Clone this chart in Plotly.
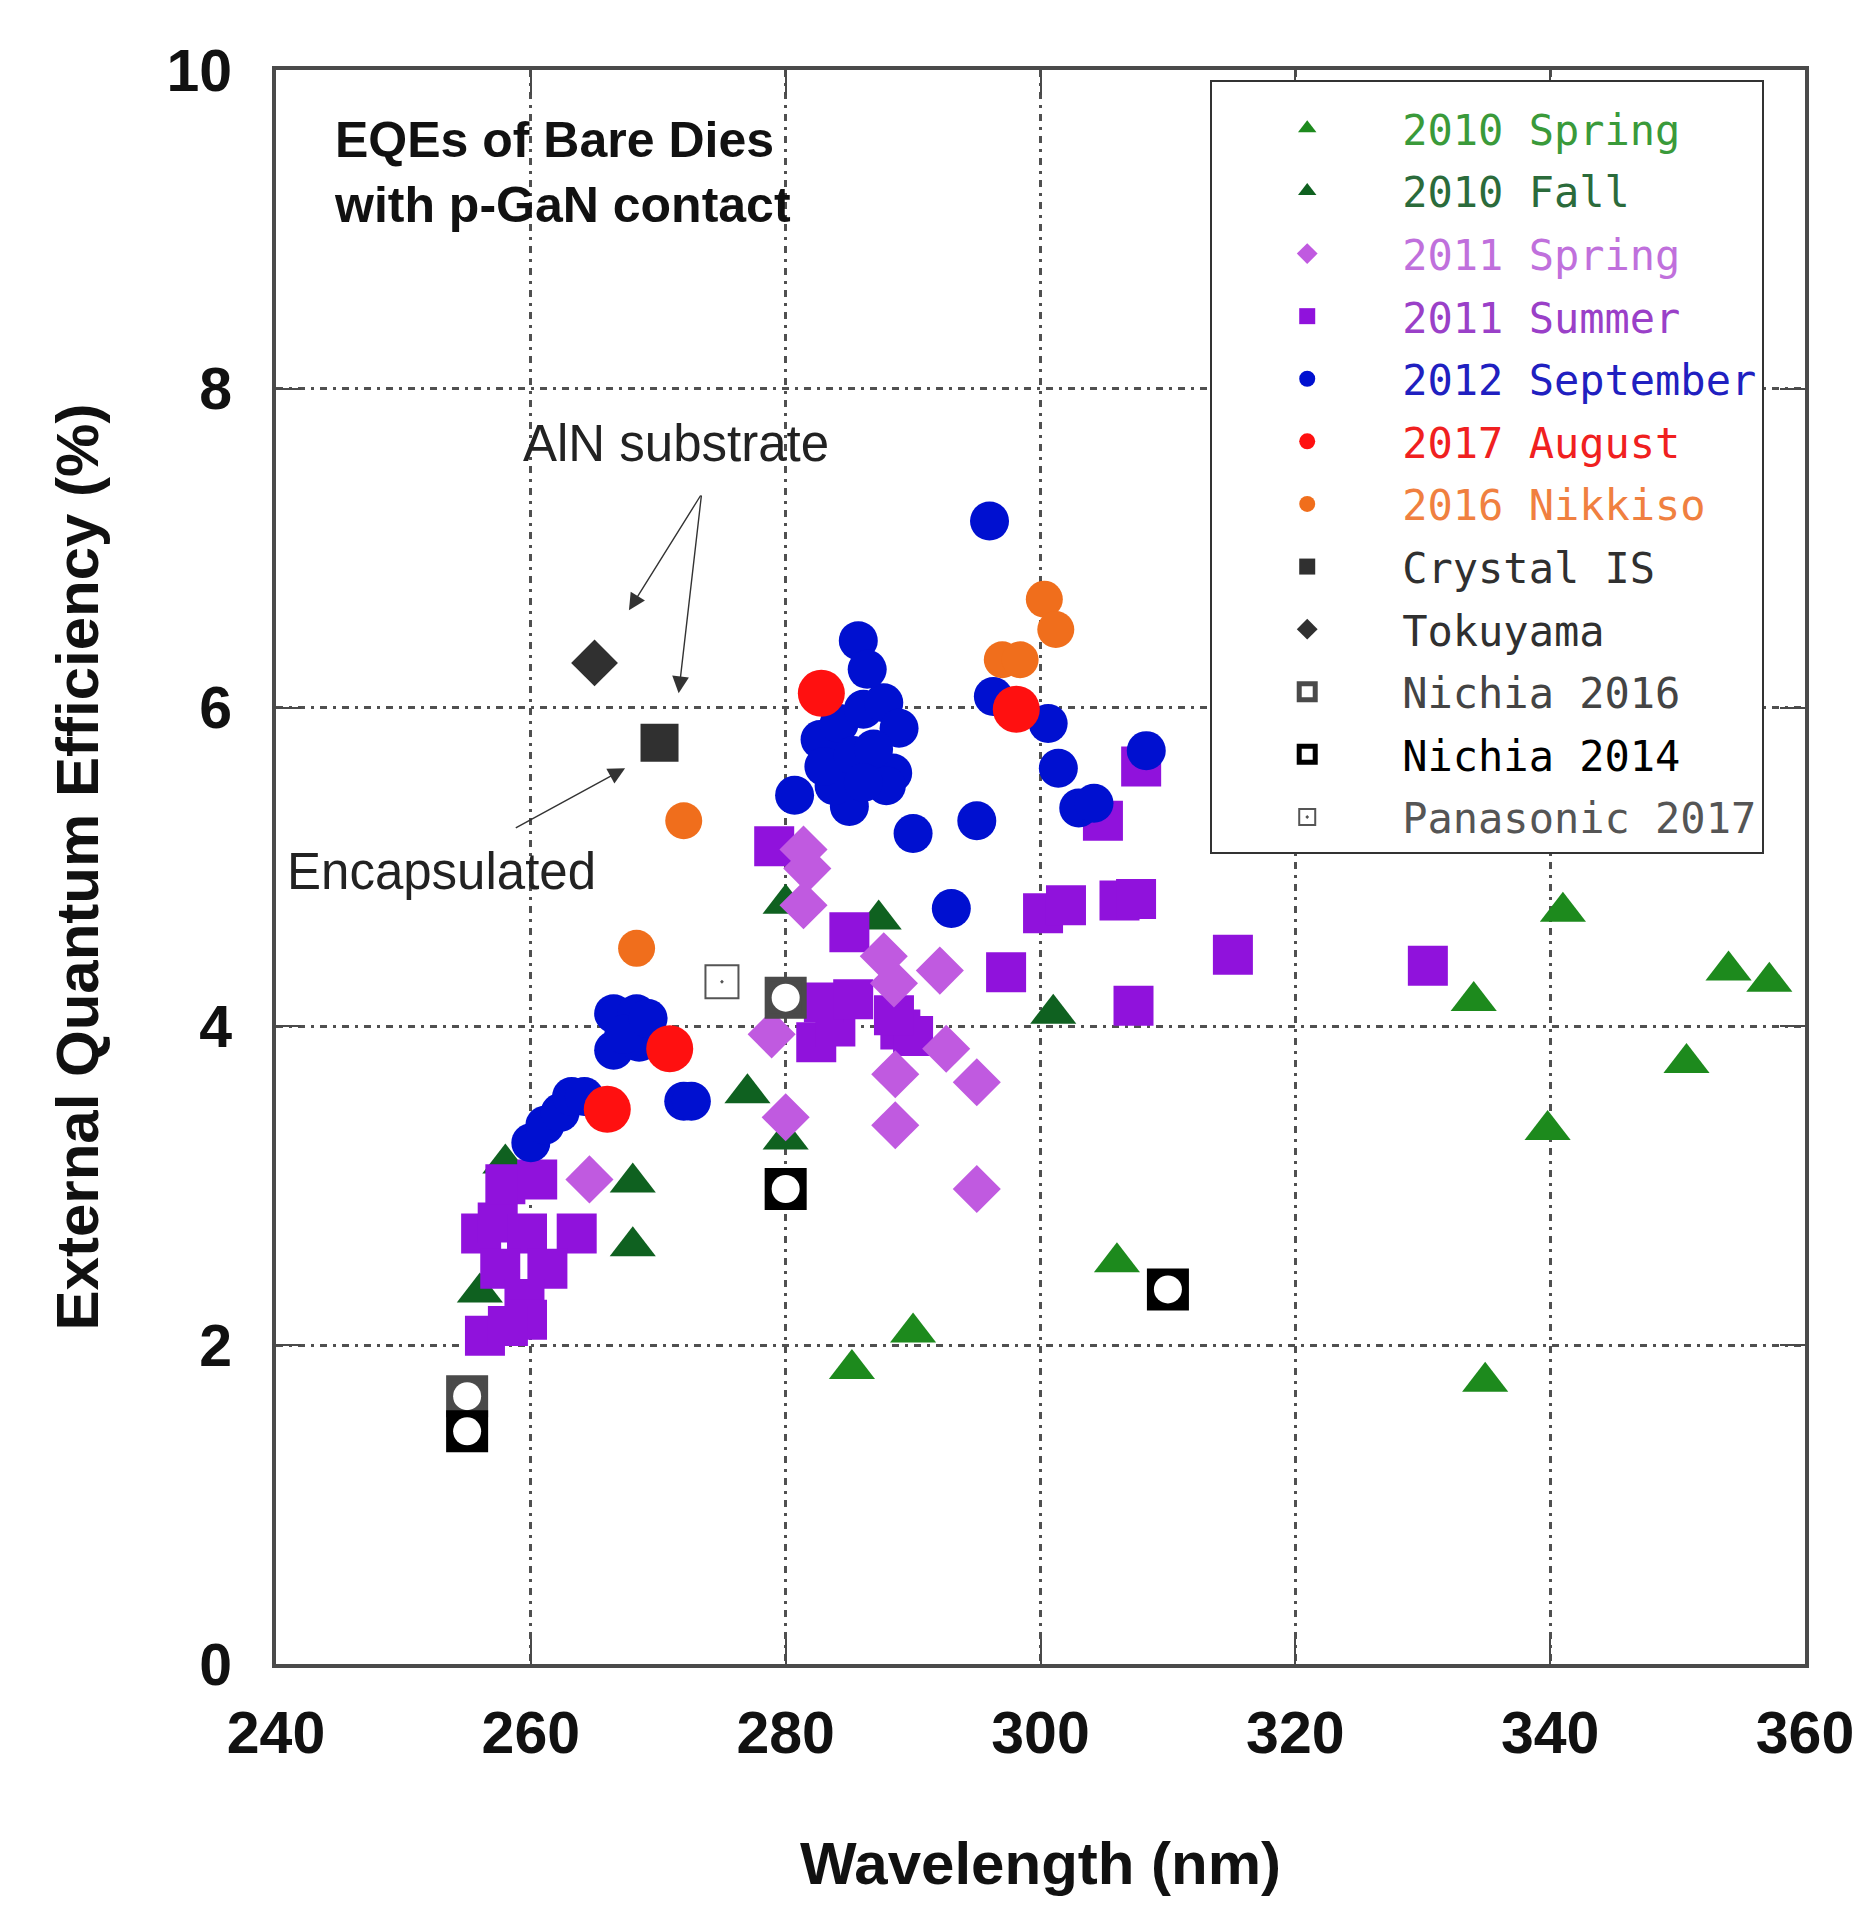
import plotly.graph_objs as go

# 2010 Spring (green triangles)
spring10_x = [285.2, 290.0, 306.0, 334.9, 339.8, 350.7, 334.0, 341.0, 354.0, 357.2]
spring10_y = [1.85, 2.08, 2.52, 1.77, 3.35, 3.77, 4.16, 4.72, 4.35, 4.28]

# 2010 Fall (dark green triangles)
fall10_x = [280.0, 287.3, 301.0, 277.0, 280.0, 268.0, 268.0, 258.0, 256.0]
fall10_y = [4.77, 4.67, 4.08, 3.58, 3.29, 3.02, 2.62, 3.14, 2.33]

# 2011 Spring (light purple diamonds)
spring11_x = [264.6, 280.0, 278.9, 281.4, 281.7, 281.4, 287.7, 288.5, 292.1, 292.6, 295.0, 288.6, 288.6, 295.0]
spring11_y = [3.04, 3.43, 3.95, 5.11, 4.99, 4.76, 4.44, 4.27, 4.35, 3.86, 3.65, 3.70, 3.38, 2.98]

# 2011 Summer (purple squares)
summer11_x = [256.1, 257.4, 258.0, 260.5, 259.7, 263.6, 257.6, 261.3, 259.5, 259.7, 256.4, 258.2,
              279.1, 285.0, 282.4, 283.9, 283.0, 285.3, 289.0, 290.0, 288.5, 297.3, 300.2, 302.0,
              306.2, 307.5, 307.3, 304.9, 307.9, 315.1, 330.4]
summer11_y = [2.70, 2.77, 3.01, 3.04, 2.70, 2.70, 2.48, 2.48, 2.29, 2.16, 2.06, 2.12,
              5.13, 4.59, 3.90, 4.00, 4.15, 4.17, 3.98, 3.94, 4.07, 4.34, 4.71, 4.76,
              4.79, 4.80, 4.13, 5.29, 5.63, 4.45, 4.38]

# 2012 September (blue circles)
sep12_x = [260.0, 261.1, 262.3, 263.2, 264.2,
           266.5, 268.3, 266.5, 268.5, 267.3, 269.2, 272.0, 272.6,
           280.7, 282.7, 284.2, 286.1, 287.7, 288.9, 288.4, 287.9, 285.0, 283.8, 283.0, 285.3, 286.9, 286.1,
           285.7, 286.4, 296.0, 290.0, 295.0, 293.0, 296.3, 300.6, 301.4, 303.0, 304.2, 308.3]
sep12_y = [3.27, 3.38, 3.46, 3.56, 3.56,
           4.08, 4.08, 3.85, 3.90, 3.95, 4.05, 3.53, 3.53,
           5.45, 5.80, 5.90, 5.99, 6.03, 5.87, 5.59, 5.51, 5.38, 5.51, 5.63, 5.70, 5.74, 5.53,
           6.42, 6.24, 7.17, 5.21, 5.29, 4.74, 6.07, 5.90, 5.62, 5.37, 5.40, 5.73]

# 2017 August (red)
aug17_x = [266.0, 270.9, 282.8, 298.1]
aug17_y = [3.48, 3.86, 6.09, 5.99]

# 2016 Nikkiso (orange)
nikkiso_x = [268.3, 272.0, 300.3, 301.2, 297.0, 298.4]
nikkiso_y = [4.49, 5.29, 6.68, 6.49, 6.30, 6.30]

crystal_x, crystal_y = [270.1], [5.78]
tokuyama_x, tokuyama_y = [265.0], [6.28]
nichia16_x, nichia16_y = [255.0, 280.0], [1.68, 4.18]
nichia14_x, nichia14_y = [255.0, 280.0, 310.0], [1.46, 2.98, 2.35]
panasonic_x, panasonic_y = [275.0], [4.28]

FONT = "Liberation Sans"
MONO = "DejaVu Sans Mono"
GRID_DASH = "7px,6px,3px,6px"


def lbl(text, color):
    return "<span style='color:%s'>%s</span>" % (color, text)


fig = go.Figure()

def pts(x, y, name, symbol, color, size, rank, group, show=True, line=None):
    fig.add_trace(go.Scatter(
        x=x, y=y, mode="markers", name=name, legendrank=rank, showlegend=show,
        legendgroup=group,
        marker=dict(symbol=symbol, color=color, size=size,
                    line=line if line else dict(width=0)),
    ))

# drawing order (bottom -> top), legend order set by legendrank
pts(spring10_x, spring10_y, lbl("2010 Spring", "#3a9a3a"), "triangle-up", "#1d8a1d", 40, 1, "g1")
pts(fall10_x, fall10_y, lbl("2010 Fall", "#2b6b3b"), "triangle-up", "#0f6120", 40, 2, "g2")
pts(summer11_x, summer11_y, lbl("2011 Summer", "#9a40c8"), "square", "#9012dc", 40, 4, "g4")
pts(spring11_x, spring11_y, lbl("2011 Spring", "#c070dc"), "diamond", "#c05ae0", 37, 3, "g3")
pts(sep12_x, sep12_y, lbl("2012 September", "#2020c0"), "circle", "#0010d0", 39, 5, "g5")
pts(nikkiso_x, nikkiso_y, lbl("2016 Nikkiso", "#f08040"), "circle", "#f06e1c", 37, 7, "g7")
pts(aug17_x, aug17_y, lbl("2017 August", "#f02020"), "circle", "#ff1010", 47, 6, "g6")
pts(crystal_x, crystal_y, lbl("Crystal IS", "#303030"), "square", "#303030", 38, 8, "g8")
pts(tokuyama_x, tokuyama_y, lbl("Tokuyama", "#303030"), "diamond", "#303030", 36, 9, "g9")

# Nichia: dark square with white circular hole
pts(nichia16_x, nichia16_y, "n16bg", "square", "#4a4a4a", 37, 20, "g10", show=False)
pts(nichia16_x, nichia16_y, lbl("Nichia 2016", "#444444"), "square-open", "#4a4a4a", 37, 10, "g10",
    line=dict(width=5, color="#4a4a4a"))
pts(nichia16_x, nichia16_y, "n16c", "circle", "white", 28, 21, "g10", show=False)
pts(nichia14_x, nichia14_y, "n14bg", "square", "#000000", 37, 22, "g11", show=False)
pts(nichia14_x, nichia14_y, lbl("Nichia 2014", "#000000"), "square-open", "#000000", 37, 11, "g11",
    line=dict(width=5, color="#000000"))
pts(nichia14_x, nichia14_y, "n14c", "circle", "white", 28, 23, "g11", show=False)
pts(panasonic_x, panasonic_y, lbl("Panasonic 2017", "#555555"), "square-open-dot", "#555555", 33, 12, "g12",
    line=dict(width=2, color="#555555"))

# annotations
fig.add_annotation(x=262.5, y=9.36, xref="x", yref="y", showarrow=False,
                   text="<b>EQEs of Bare Dies<br>with p-GaN contact</b>",
                   font=dict(family=FONT, size=50, color="#111111"), align="left")
fig.add_annotation(x=271.4, y=7.66, xref="x", yref="y", showarrow=False,
                   text="AlN substrate", font=dict(family=FONT, size=51, color="#222222"))
fig.add_annotation(x=253.0, y=4.97, xref="x", yref="y", showarrow=False,
                   text="Encapsulated", font=dict(family=FONT, size=51, color="#222222"))
for hx, hy, tx, ty in [(267.7, 6.61, 273.4, 7.34), (271.6, 6.09, 273.4, 7.34),
                       (267.4, 5.62, 258.7, 5.24)]:
    fig.add_annotation(x=hx, y=hy, ax=tx, ay=ty, xref="x", yref="y", axref="x", ayref="y",
                       text="", showarrow=True, arrowhead=2, arrowsize=2.4,
                       arrowwidth=1.4, arrowcolor="#333333")

axis_common = dict(
    showline=True, linecolor="#4a4a4a", linewidth=4, mirror="ticks",
    ticks="inside", ticklen=25, tickwidth=2, tickcolor="#4a4a4a",
    showgrid=True, gridcolor="#505050", gridwidth=2.5, griddash=GRID_DASH,
    zeroline=False,
    tickfont=dict(family=FONT, size=59, color="#111111", weight="bold"),
)

fig.update_layout(
    width=1863, height=1910,
    margin=dict(l=268, r=66, t=62, b=254),
    plot_bgcolor="white", paper_bgcolor="white",
    showlegend=True,
    legend=dict(
        x=0.611, y=0.994, xanchor="left", yanchor="top",
        bgcolor="white", bordercolor="#333333", borderwidth=2,
        font=dict(family=MONO, size=42, color="#333333"),
        title=dict(text=" ", font=dict(size=10)),
        itemwidth=180, traceorder="grouped", tracegroupgap=5,
    ),
    xaxis=dict(axis_common, range=[240, 360], dtick=20, ticklabelstandoff=14,
               title=dict(text="<b>Wavelength (nm)</b>", standoff=78,
                          font=dict(family=FONT, size=60, color="#111111"))),
    yaxis=dict(axis_common, range=[0, 10], dtick=2, ticklabelstandoff=28,
               title=dict(text="<b>External Quantum Efficiency (%)</b>", standoff=50,
                          font=dict(family=FONT, size=60, color="#111111"))),
)

fig.write_html("out.html")
